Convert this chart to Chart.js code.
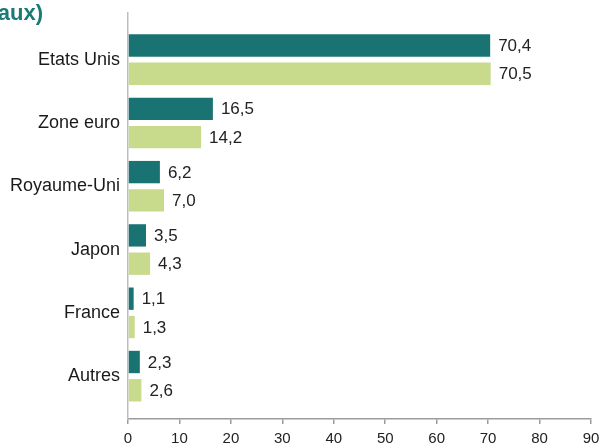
<!DOCTYPE html>
<html lang="fr">
<head>
<meta charset="UTF-8">
<title>Répartition par pays</title>
<style>
body { margin: 0; background: #fff; font-family: "Liberation Sans", Arial, sans-serif; }
#cadre { position: relative; width: 600px; height: 446px; }
#titre { position: absolute; left: 0; top: 2px; width: 43px; height: 26px; overflow: hidden; }
#titre span { position: absolute; right: 0; top: 0; white-space: nowrap;
  font-weight: bold; font-size: 22px; line-height: 22px; color: #1a7a78; }
</style>
</head>
<body>
<div id="cadre">
  <canvas id="graphe"></canvas>
  <div id="titre"><span>aux)</span></div>
</div>

<script src="https://cdn.jsdelivr.net/npm/chart.js"></script>
<script>
// Données
const categories = ['Etats Unis', 'Zone euro', 'Royaume-Uni', 'Japon', 'France', 'Autres'];
const serieFoncee = [70.4, 16.5, 6.2, 3.5, 1.1, 2.3];
const serieClaire = [70.5, 14.2, 7.0, 4.3, 1.3, 2.6];
const xTicks = [0, 10, 20, 30, 40, 50, 60, 70, 80, 90];

const formatFr = v => v.toFixed(1).replace('.', ',');

// valeurs affichées au bout des barres
const etiquettes = {
    id: 'etiquettes',
    afterDatasetsDraw(chart) {
        const ctx = chart.ctx;
        ctx.save();
        ctx.font = '17px "Liberation Sans", Arial, sans-serif';
        ctx.fillStyle = '#222';
        ctx.textBaseline = 'middle';
        chart.data.datasets.forEach((ds, i) => {
            chart.getDatasetMeta(i).data.forEach((bar, j) => {
                ctx.fillText(formatFr(ds.data[j].x), bar.x + 8, bar.y + 1);
            });
        });
        ctx.restore();
    }
};

new Chart(document.getElementById('graphe'), {
    type: 'bar',
    data: {
        datasets: [{
            data: serieFoncee.map((v, i) => ({ x: v, y: i })),
            backgroundColor: '#1a7373'
        }, {
            data: serieClaire.map((v, i) => ({ x: v, y: i })),
            backgroundColor: '#c8da8c'
        }]
    },
    options: {
        indexAxis: 'y',
        responsive: true,
        maintainAspectRatio: false,
        animation: false,
        categoryPercentage: 0.894,
        barPercentage: 0.79,
        layout: { padding: { top: 13, right: 9, left: 0, bottom: 0 } },
        plugins: { legend: { display: false }, tooltip: { enabled: false } },
        scales: {
            x: {
                type: 'linear',
                position: 'bottom',
                min: 0,
                max: 90,
                afterBuildTicks: s => { s.ticks = xTicks.map(v => ({ value: v })); },
                afterFit: s => { s.height = 27; s.paddingLeft = 0; s.paddingRight = 0; },
                grid: { drawOnChartArea: false, drawTicks: true, tickLength: 5, color: '#9c9c9c', lineWidth: 1.5 },
                border: { display: true, color: '#9c9c9c', width: 1.5 },
                ticks: { padding: 6, color: '#222', font: { size: 15, family: '"Liberation Sans", Arial, sans-serif' } }
            },
            y: {
                type: 'linear',
                reverse: true,
                offset: false,
                min: -0.737,
                max: 5.677,
                afterBuildTicks: s => { s.ticks = categories.map((_, i) => ({ value: i })); },
                afterFit: s => { s.width = 128; s.paddingTop = 0; s.paddingBottom = 0; },
                grid: { display: false, drawTicks: false },
                border: { display: true, color: '#bdbdbd', width: 1.5, dash: [402, 50] },
                ticks: {
                    padding: 8,
                    autoSkip: false,
                    color: '#1a1a1a',
                    font: { size: 18, family: '"Liberation Sans", Arial, sans-serif' },
                    callback: v => categories[v]
                }
            }
        }
    },
    plugins: [etiquettes]
});
</script>
</body>
</html>
